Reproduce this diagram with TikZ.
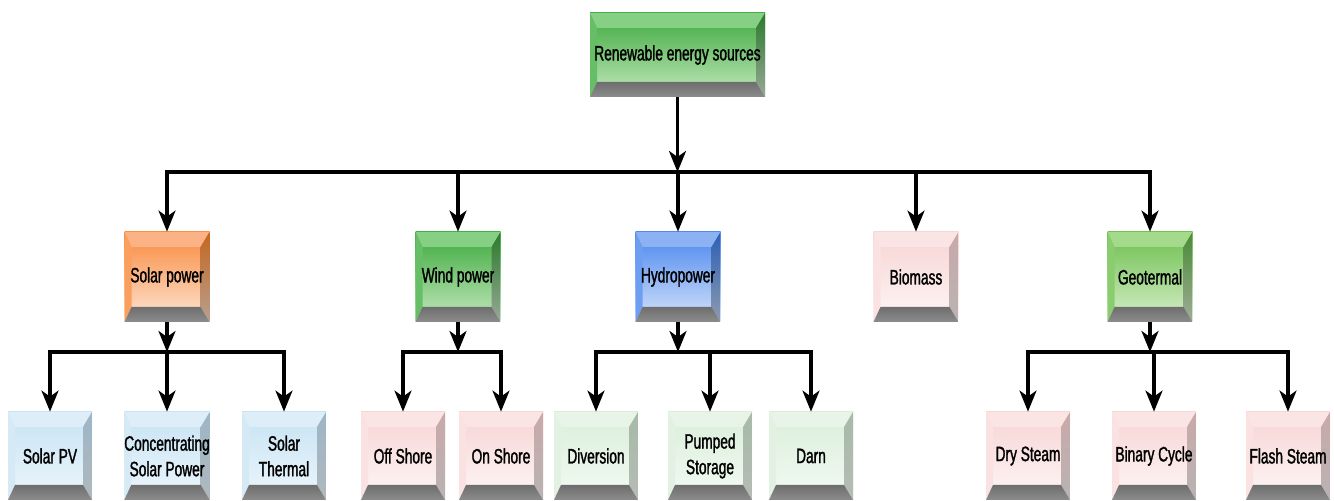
\documentclass[tikz,border=0pt]{standalone}
\usepackage{fontspec}
\setmainfont{Liberation Sans}[FakeStretch=0.66,FakeBold=1.4]
\usetikzlibrary{arrows.meta,calc}

% colour schemes: F1/F2 face shading, T top bevel, L left bevel, R1/R2 right bevel
\definecolor{grnF1}{HTML}{3DAA3D}\definecolor{grnF2}{HTML}{C4E8BE}
\definecolor{grnT}{HTML}{86D086}\definecolor{grnL}{HTML}{66BF66}
\definecolor{grnR1}{HTML}{2C7A2C}\definecolor{grnR2}{HTML}{98A898}

\definecolor{orgF1}{HTML}{F98A3F}\definecolor{orgF2}{HTML}{FDE6D4}
\definecolor{orgT}{HTML}{FBB385}\definecolor{orgL}{HTML}{FA9F5E}
\definecolor{orgR1}{HTML}{C4661F}\definecolor{orgR2}{HTML}{B8A090}

\definecolor{bluF1}{HTML}{4A86EE}\definecolor{bluF2}{HTML}{D6E4FA}
\definecolor{bluT}{HTML}{8CB2F4}\definecolor{bluL}{HTML}{6E9EF2}
\definecolor{bluR1}{HTML}{2D5FB5}\definecolor{bluR2}{HTML}{8D9AAE}

\definecolor{lgrF1}{HTML}{6CBF4E}\definecolor{lgrF2}{HTML}{D8EFCB}
\definecolor{lgrT}{HTML}{A5DA8C}\definecolor{lgrL}{HTML}{8ACD6E}
\definecolor{lgrR1}{HTML}{4A8A36}\definecolor{lgrR2}{HTML}{A0AC98}

\definecolor{pnkF1}{HTML}{F7D4D4}\definecolor{pnkF2}{HTML}{FEF6F6}
\definecolor{pnkT}{HTML}{FAE4E4}\definecolor{pnkL}{HTML}{FBE2E2}
\definecolor{pnkR1}{HTML}{C9A9A9}\definecolor{pnkR2}{HTML}{B9B3B3}

\definecolor{lblF1}{HTML}{C6E3F3}\definecolor{lblF2}{HTML}{EDF6FC}
\definecolor{lblT}{HTML}{DDEEF8}\definecolor{lblL}{HTML}{D6EAF6}
\definecolor{lblR1}{HTML}{9DB6C6}\definecolor{lblR2}{HTML}{B0B8BE}

\definecolor{pgrF1}{HTML}{DAEEDA}\definecolor{pgrF2}{HTML}{F3FAF3}
\definecolor{pgrT}{HTML}{E8F4E8}\definecolor{pgrL}{HTML}{E2F1E2}
\definecolor{pgrR1}{HTML}{A7BAA7}\definecolor{pgrR2}{HTML}{B5BCB5}

\definecolor{bevA}{HTML}{6E6E6E}\definecolor{bevB}{HTML}{8C8C8C}

\newcommand\boxfont{\fontsize{10.4}{12.8}\selectfont}

\tikzset{
  bev/.style={
    rectangle, inner sep=0pt, align=center, font=\boxfont,
    path picture={
      \path (path picture bounding box.north west) coordinate (bNW)
            (path picture bounding box.north east) coordinate (bNE)
            (path picture bounding box.south west) coordinate (bSW)
            (path picture bounding box.south east) coordinate (bSE);
      \shade[top color=#1F1, bottom color=#1F2] (bNW) rectangle (bSE);
      \fill[#1T] (bNW) -- (bNE) -- ($(bNE)+(-9,15)$) -- ($(bNW)+(7,15)$) -- cycle;
      \fill[#1L] (bNW) -- ($(bNW)+(7,15)$) -- ($(bSW)+(7,-15)$) -- (bSW) -- cycle;
      \shade[top color=#1R1, bottom color=#1R2]
        (bNE) -- (bSE) -- ($(bSE)+(-9,-15)$) -- ($(bNE)+(-9,15)$) -- cycle;
      \shade[top color=bevA, bottom color=bevB]
        (bSW) -- (bSE) -- ($(bSE)+(-9,-15)$) -- ($(bSW)+(7,-15)$) -- cycle;
    }
  },
  sz/.style 2 args={minimum width=#1, minimum height=#2},
  rootbox/.style={sz={87.5pt}{42pt}},
  midbox/.style={sz={42.5pt}{45pt}},
  leafbox/.style={sz={42pt}{44pt}},
  arr/.style={line width=1.6pt, -{Stealth[length=10.5pt,width=8.5pt,inset=3pt]}},
  bus/.style={line width=2.4pt, line cap=rect}
}

\begin{document}
\begin{tikzpicture}[x=0.5pt,y=-0.5pt]
\useasboundingbox (0,0) rectangle (1334,501);

% root
\node[bev=grn, rootbox] (root) at (677.5,55) {Renewable energy sources};

% main categories
\node[bev=org, midbox] (solar) at (167,277) {Solar power};
\node[bev=grn, midbox] (wind)  at (458,277) {Wind power};
\node[bev=blu, midbox] (hydro) at (678,277) {Hydropower};
\node[bev=pnk, midbox] (bio)   at (916,277) {Biomass};
\node[bev=lgr, midbox] (geo)   at (1150,277) {Geotermal};

% technologies
\node[bev=lbl, leafbox] (spv)   at (50,456)   {Solar PV};
\node[bev=lbl, leafbox] (csp)   at (167,456)  {Concentrating\\Solar Power};
\node[bev=lbl, leafbox] (sth)   at (284,456)  {Solar\\Thermal};
\node[bev=pnk, leafbox] (off)   at (403,456)  {Off Shore};
\node[bev=pnk, leafbox] (on)    at (501,456)  {On Shore};
\node[bev=pgr, leafbox] (div)   at (596,456)  {Diversion};
\node[bev=pgr, leafbox] (pump)  at (710,456)  {Pumped\\Storage};
\node[bev=pgr, leafbox] (darn)  at (811,456)  {Darn};
\node[bev=pnk, leafbox] (dry)   at (1028,456) {Dry Steam};
\node[bev=pnk, leafbox] (bin)   at (1154,456) {Binary Cycle};
\node[bev=pnk, leafbox] (flash) at (1288,456) {Flash Steam};

% junctions on the upper bus
\coordinate (r0) at (677.5,172);
\coordinate (r1) at (167,172);
\coordinate (r2) at (458,172);
\coordinate (r3) at (678,172);
\coordinate (r4) at (916,172);
\coordinate (r5) at (1150,172);

% junctions on the lower buses
\coordinate (s0) at (167,352);  \coordinate (s1) at (50,352);
\coordinate (s2) at (167,352);  \coordinate (s3) at (284,352);
\coordinate (w0) at (458,352);  \coordinate (w1) at (403,352);
\coordinate (w2) at (501,352);
\coordinate (h0) at (678,352);  \coordinate (h1) at (596,352);
\coordinate (h2) at (710,352);  \coordinate (h3) at (811,352);
\coordinate (g0) at (1150,352); \coordinate (g1) at (1028,352);
\coordinate (g2) at (1154,352); \coordinate (g3) at (1288,352);

% buses
\draw[bus] (r1) -- (r5);
\draw[bus] (s1) -- (s3);
\draw[bus] (w1) -- (w2);
\draw[bus] (h1) -- (h3);
\draw[bus] (g1) -- (g3);

% root to bus and bus to categories
\draw[arr] (root) -- (r0);
\draw[arr] (r1) -- (solar);
\draw[arr] (r2) -- (wind);
\draw[arr] (r3) -- (hydro);
\draw[arr] (r4) -- (bio);
\draw[arr] (r5) -- (geo);

% categories to lower buses
\draw[arr] (solar) -- (s0);
\draw[arr] (wind)  -- (w0);
\draw[arr] (hydro) -- (h0);
\draw[arr] (geo)   -- (g0);

% lower buses to technologies
\draw[arr] (s1) -- (spv);
\draw[arr] (s2) -- (csp);
\draw[arr] (s3) -- (sth);
\draw[arr] (w1) -- (off);
\draw[arr] (w2) -- (on);
\draw[arr] (h1) -- (div);
\draw[arr] (h2) -- (pump);
\draw[arr] (h3) -- (darn);
\draw[arr] (g1) -- (dry);
\draw[arr] (g2) -- (bin);
\draw[arr] (g3) -- (flash);
\end{tikzpicture}
\end{document}
